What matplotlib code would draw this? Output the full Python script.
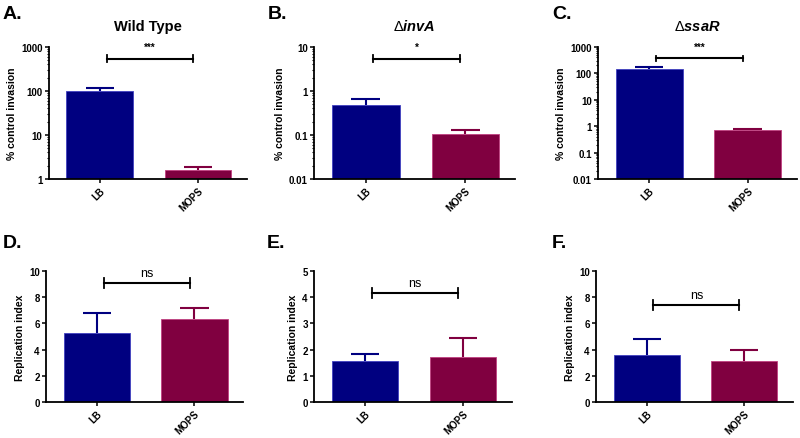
import matplotlib.pyplot as plt
from matplotlib.ticker import LogLocator, NullFormatter

plt.rcParams['font.family'] = ['Liberation Sans', 'DejaVu Sans']
plt.rcParams['mathtext.fontset'] = 'custom'
plt.rcParams['mathtext.rm'] = 'Liberation Sans'
plt.rcParams['mathtext.it'] = 'Liberation Sans:italic:bold'

groups = ["LB", "MOPS"]
colors = ["#000080", "#800040"]
edges = ["#4040c0", "#c04080"]

# invasion (log scale) panels
wt_mean = [100, 1.63]
wt_err = [18, 0.21]
inva_mean = [0.47, 0.106]
inva_err = [0.19, 0.024]
ssar_mean = [143, 0.686]
ssar_err = [33, 0.08]

# replication index panels
wt_rep_mean = [5.3, 6.36]
wt_rep_err = [1.52, 0.84]
inva_rep_mean = [1.56, 1.72]
inva_rep_err = [0.26, 0.74]
ssar_rep_mean = [3.59, 3.13]
ssar_rep_err = [1.24, 0.81]

panels = [
    # letter, title, means, errs, log, ylim, yticks, ylabel, sig text, sig y
    ("A.", "Wild Type", wt_mean, wt_err, True, (1, 1000), [1, 10, 100, 1000],
     "% control invasion", "***", 540),
    ("B.", r"$\Delta\it{invA}$", inva_mean, inva_err, True, (0.01, 10), [0.01, 0.1, 1, 10],
     "% control invasion", "*", 5.4),
    ("C.", r"$\Delta\it{ssaR}$", ssar_mean, ssar_err, True, (0.01, 1000),
     [0.01, 0.1, 1, 10, 100, 1000], "% control invasion", "***", 363),
    ("D.", None, wt_rep_mean, wt_rep_err, False, (0, 10), [0, 2, 4, 6, 8, 10],
     "Replication index", "ns", 9.1),
    ("E.", None, inva_rep_mean, inva_rep_err, False, (0, 5), [0, 1, 2, 3, 4, 5],
     "Replication index", "ns", 4.15),
    ("F.", None, ssar_rep_mean, ssar_rep_err, False, (0, 10), [0, 2, 4, 6, 8, 10],
     "Replication index", "ns", 7.4),
]

# axes rectangles in figure fraction
rects = [
    (0.061, 0.590, 0.248, 0.301),
    (0.3925, 0.590, 0.2515, 0.301),
    (0.7475, 0.590, 0.2485, 0.301),
    (0.0575, 0.082, 0.2465, 0.2985),
    (0.3925, 0.082, 0.2475, 0.2985),
    (0.745, 0.082, 0.246, 0.2985),
]
letter_pos = [(0.003, 0.968), (0.335, 0.968), (0.69, 0.968),
              (0.003, 0.445), (0.333, 0.445), (0.69, 0.445)]

fig = plt.figure(figsize=(8, 4.39), dpi=100)

for (letter, title, means, errs, logy, ylim, yticks, ylabel, sig, sig_y), rect, lp in zip(panels, rects, letter_pos):
    ax = fig.add_axes(rect)
    x = [0, 1]
    ax.bar(x, means, width=0.68, color=colors, edgecolor=edges, linewidth=0.6, zorder=2)
    # upper error bars only, drawn behind the bars
    for xi, m, e, c in zip(x, means, errs, colors):
        ax.vlines(xi, m, m + e, color=c, lw=1.5, zorder=1)
        ax.hlines(m + e, xi - 0.145, xi + 0.145, color=c, lw=1.5, zorder=1)

    if logy:
        ax.set_yscale("log")
        ax.yaxis.set_minor_locator(LogLocator(base=10, subs=range(2, 10), numticks=20))
        ax.yaxis.set_minor_formatter(NullFormatter())
        ax.set_yticks(yticks)
        ax.set_yticklabels([f"{t:g}" for t in yticks])
    else:
        ax.set_yticks(yticks)
    ax.set_ylim(*ylim)
    ax.set_xlim(-0.52, 1.5)
    ax.set_xticks(x)
    ax.set_xticklabels(groups, rotation=45, ha="right", rotation_mode="anchor",
                       fontsize=7, fontweight="bold")
    for t in ax.get_yticklabels():
        t.set_fontweight("bold")
        t.set_fontsize(7)

    ax.spines["top"].set_visible(False)
    ax.spines["right"].set_visible(False)
    ax.spines["left"].set_linewidth(1.3)
    ax.spines["bottom"].set_linewidth(1.3)
    ax.tick_params(axis="both", which="major", length=3, width=1.1, pad=1.5)
    ax.tick_params(axis="y", which="minor", length=1.8, width=0.8)
    ax.set_ylabel(ylabel, fontsize=7.5, fontweight="bold", labelpad=3)

    # significance bracket
    ax.plot([0.07, 0.95], [sig_y, sig_y], color="black", lw=1.5, clip_on=False)
    if logy:
        lo, hi = sig_y / 1.2, sig_y * 1.2
    else:
        span = ylim[1] - ylim[0]
        lo, hi = sig_y - 0.04 * span, sig_y + 0.04 * span
    for xe in (0.07, 0.95):
        ax.plot([xe, xe], [lo, hi], color="black", lw=1.3, clip_on=False)
    if sig == "ns":
        ax.annotate(sig, (0.51, sig_y), xytext=(0, 3), textcoords="offset points",
                    ha="center", va="bottom", fontsize=9)
    else:
        ax.annotate(sig, (0.51, sig_y), xytext=(0, 5), textcoords="offset points",
                    ha="center", va="bottom", fontsize=7, fontweight="bold")

    if title:
        ax.set_title(title, fontsize=10.5, fontweight="bold", pad=12)

    fig.text(lp[0], lp[1], letter, fontsize=14, fontweight="bold", ha="left", va="center")

fig.savefig("out.png", dpi=100)
